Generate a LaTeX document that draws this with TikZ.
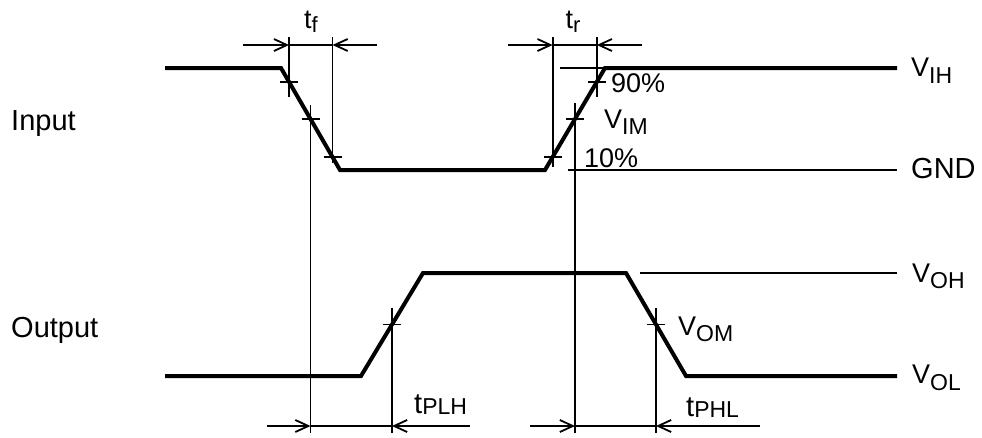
\documentclass[tikz,border=0pt]{standalone}
\usepackage{fontspec}
\setmainfont{Liberation Sans}
\usetikzlibrary{arrows.meta,calc}
\newcommand\sublbl[5]{\fontsize{#3}{#3}\selectfont #1\raisebox{-#5pt}{\fontsize{#4}{#4}\selectfont #2}}
\begin{document}
\begin{tikzpicture}[x=1pt,y=-1pt,
  wave/.style={line width=4pt, line join=miter},
  hair/.style={line width=1.8pt},
  dimarr/.style={hair, -{Straight Barb[length=13pt,width=12pt]}},
  lbl/.style={inner sep=0pt, anchor=base west, font=\fontsize{29}{34}\selectfont},
  clbl/.style={inner sep=0pt, anchor=base}
]
\useasboundingbox (0,0) rectangle (982,437);
% levels
\coordinate (ytop) at (0,37);
\coordinate (yarr) at (0,45);
\coordinate (ylow) at (0,426);
\coordinate (ybot) at (0,433);
% input waveform
\coordinate (i0) at (165,68);
\coordinate (i1) at (281,68);
\coordinate (i2) at (340,170);
\coordinate (i3) at (545,170);
\coordinate (i4) at (605,68);
\coordinate (i5) at (897,68);
% output waveform
\coordinate (o0) at (165,376);
\coordinate (o1) at (361,376);
\coordinate (o2) at (423,273);
\coordinate (o3) at (626,273);
\coordinate (o4) at (686,376);
\coordinate (o5) at (897,376);
% reference lines
\coordinate (vihs) at (560,68);
\coordinate (gnds) at (568,170);
\coordinate (gnde) at (897,170);
\coordinate (vohs) at (640,273);
\coordinate (vohe) at (897,273);
\draw[hair] (vihs) -- (i4);
\draw[hair] (gnds) -- (gnde);
\draw[hair] (vohs) -- (vohe);
\draw[wave] (i0) -- (i1) -- (i2) -- (i3) -- (i4) -- (i5);
\draw[wave] (o0) -- (o1) -- (o2) -- (o3) -- (o4) -- (o5);
% measurement points
\coordinate (f90) at ($(i1)!0.137!(i2)$);
\coordinate (f50) at ($(i1)!0.5!(i2)$);
\coordinate (f10) at ($(i1)!0.873!(i2)$);
\coordinate (r10) at ($(i3)!0.127!(i4)$);
\coordinate (r50) at ($(i3)!0.5!(i4)$);
\coordinate (r90) at ($(i3)!0.863!(i4)$);
\coordinate (or50) at ($(o1)!0.5!(o2)$);
\coordinate (of50) at ($(o3)!0.5!(o4)$);
% ticks
\foreach \p in {f90,f50,f10,r10,r50,r90,or50,of50}{
  \draw[hair] ($(\p)+(-9,0)$) -- ($(\p)+(9,0)$);
}
% verticals
\draw[hair] (f90 |- ytop) -- ($(f90)+(0,15)$);
\draw[hair] (f10 |- ytop) -- ($(f10)+(0,6)$);
\draw[hair] (r10 |- ytop) -- ($(r10)+(0,10)$);
\draw[hair] (r90 |- ytop) -- ($(r90)+(0,15)$);
\draw[hair] ($(f50)+(0,-14)$) -- (f50 |- ybot);
\draw[hair] ($(r50)+(0,-16)$) -- (r50 |- ybot);
\draw[hair] ($(or50)+(0,-17)$) -- (or50 |- ybot);
\draw[hair] ($(of50)+(0,-17)$) -- (of50 |- ybot);
% dimension arrows
\coordinate (tfL) at (243,45);
\coordinate (tfR) at (377,45);
\coordinate (trL) at (508,45);
\coordinate (trR) at (642,45);
\coordinate (plhL) at (267,426);
\coordinate (plhR) at (470,426);
\coordinate (phlL) at (530,426);
\coordinate (phlR) at (760,426);
\draw[dimarr] (tfL) -- (f90 |- yarr);
\draw[dimarr] (tfR) -- (f10 |- yarr);
\draw[hair] (f90 |- yarr) -- (f10 |- yarr);
\draw[dimarr] (trL) -- (r10 |- yarr);
\draw[dimarr] (trR) -- (r90 |- yarr);
\draw[hair] (r10 |- yarr) -- (r90 |- yarr);
\draw[dimarr] (plhL) -- (f50 |- ylow);
\draw[dimarr] (plhR) -- (or50 |- ylow);
\draw[hair] (f50 |- ylow) -- (or50 |- ylow);
\draw[dimarr] (phlL) -- (r50 |- ylow);
\draw[dimarr] (phlR) -- (of50 |- ylow);
\draw[hair] (r50 |- ylow) -- (of50 |- ylow);
% labels
\node[lbl] (input) at (11,130) {Input};
\node[lbl] (output) at (11,337) {Output};
\node[lbl] (gnd) at (911,178) {GND};
\node[lbl, font=\fontsize{27}{30}\selectfont] (p90) at (611,92) {90\%};
\node[lbl, font=\fontsize{27}{30}\selectfont] (p10) at (584,167) {10\%};
\node[clbl] (tf) at (311,28) {\sublbl{t}{f}{27}{22}{4}};
\node[clbl] (tr) at (573,28) {\sublbl{t}{r}{27}{22}{4}};
\node[lbl] (tplh) at (414,413) {\sublbl{t}{PLH}{29}{23}{1}};
\node[lbl] (tphl) at (686,416) {\sublbl{t}{PHL}{29}{23}{1}};
\node[lbl] (vim) at (604,128) {\sublbl{V}{IM}{27}{23}{6}};
\node[lbl] (vom) at (678,335) {\sublbl{V}{OM}{27}{23}{6}};
\node[lbl] (vih) at (911,76) {\sublbl{V}{IH}{27}{23}{7}};
\node[lbl] (voh) at (912,282) {\sublbl{V}{OH}{27}{23}{6}};
\node[lbl] (vol) at (912,383) {\sublbl{V}{OL}{27}{23}{7}};
\end{tikzpicture}
\end{document}
